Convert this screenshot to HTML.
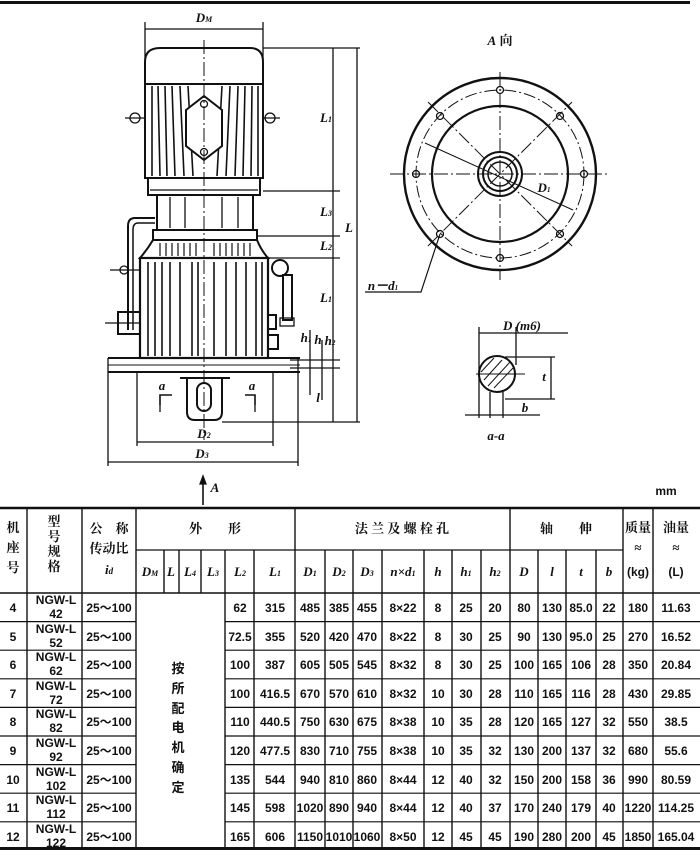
<!DOCTYPE html>
<html><head><meta charset="utf-8"><style>
html,body{margin:0;padding:0;background:#fff;}
svg{display:block;}
text{font-family:"Liberation Sans","Noto Sans CJK SC",sans-serif;fill:#111;}
.n{font-weight:bold;font-size:12px;text-anchor:middle;}
.h{font-size:13px;text-anchor:middle;font-family:"Liberation Serif","Noto Serif CJK SC",serif;font-weight:bold;}
.i{font-style:italic;font-weight:bold;font-family:"Liberation Serif",serif;font-size:13px;text-anchor:middle;}
</style></head><body>
<svg width="700" height="858" viewBox="0 0 700 858" xmlns="http://www.w3.org/2000/svg">
<g stroke="#111" fill="none" stroke-width="1.3">
<!-- top rule -->
<line x1="0" y1="2.5" x2="690" y2="2.5" stroke-width="3"/>
<!-- DM dim -->
<line x1="145" y1="22" x2="145" y2="60"/><line x1="263" y1="22" x2="263" y2="60"/>
<line x1="145" y1="29" x2="263" y2="29"/>
<!-- motor cap -->
<path d="M145 84 L145 62 Q145 48 160 48 L250 48 Q263 48 263 62 L263 84 Z" stroke-width="2"/>
<!-- motor body -->
<rect x="145" y="84" width="118" height="94" stroke-width="2"/>
<g stroke-width="1.6">
<line x1="152" y1="86" x2="152" y2="176"/><line x1="158" y1="86" x2="160" y2="176"/><line x1="165" y1="86" x2="167" y2="176"/>
<line x1="172" y1="86" x2="175" y2="176"/><line x1="180" y1="86" x2="184" y2="176"/><line x1="188" y1="86" x2="193" y2="176"/>
<line x1="222" y1="86" x2="217" y2="176"/><line x1="230" y1="86" x2="226" y2="176"/><line x1="238" y1="86" x2="235" y2="176"/>
<line x1="245" y1="86" x2="243" y2="176"/><line x1="252" y1="86" x2="251" y2="176"/><line x1="258" y1="86" x2="258" y2="176"/>
</g>
<path d="M186 110 L204 96 L222 110 L222 146 L204 160 L186 146 Z" fill="#fff" stroke-width="2"/>
<circle cx="204" cy="104" r="3.5"/><circle cx="204" cy="152" r="3.5"/>
<!-- lifting eyes -->
<circle cx="135" cy="118" r="5"/><line x1="125" y1="118" x2="145" y2="118"/>
<circle cx="270" cy="118" r="5"/><line x1="263" y1="118" x2="280" y2="118"/>
<!-- flange band -->
<rect x="148" y="178" width="112" height="17" stroke-width="2"/>
<line x1="150" y1="190" x2="258" y2="190"/>
<!-- coupling -->
<rect x="157" y="195" width="96" height="35" stroke-width="2"/>
<line x1="170" y1="197" x2="170" y2="228"/><line x1="185" y1="197" x2="185" y2="228"/><line x1="222" y1="197" x2="222" y2="228"/><line x1="238" y1="197" x2="238" y2="228"/>
<rect x="153" y="230" width="104" height="10" stroke-width="2"/>
<path d="M153 240 Q147 250 140 258 L268 258 Q261 250 257 240" stroke-width="2"/>
<g stroke-width="1.2"><line x1="160" y1="243" x2="160" y2="256"/><line x1="166" y1="243" x2="166" y2="256"/><line x1="172" y1="243" x2="172" y2="256"/><line x1="178" y1="243" x2="178" y2="256"/><line x1="184" y1="243" x2="184" y2="256"/><line x1="190" y1="243" x2="190" y2="256"/><line x1="196" y1="243" x2="196" y2="256"/><line x1="214" y1="243" x2="214" y2="256"/><line x1="220" y1="243" x2="220" y2="256"/><line x1="226" y1="243" x2="226" y2="256"/><line x1="232" y1="243" x2="232" y2="256"/><line x1="238" y1="243" x2="238" y2="256"/><line x1="244" y1="243" x2="244" y2="256"/><line x1="250" y1="243" x2="250" y2="256"/></g>
<!-- oil pipe left -->
<path d="M155 218 L135 218 Q128 218 128 226 L128 330" stroke-width="2"/>
<path d="M155 223 L138 223 Q133 223 133 230 L133 330" stroke-width="1.5"/>
<circle cx="124" cy="270" r="4"/><line x1="110" y1="270" x2="140" y2="270"/>
<rect x="118" y="312" width="22" height="22" stroke-width="2"/><line x1="105" y1="323" x2="140" y2="323"/>
<!-- gearbox body -->
<rect x="140" y="258" width="128" height="100" stroke-width="2.2"/>
<g stroke-width="1.6">
<line x1="148" y1="262" x2="148" y2="356"/><line x1="155" y1="262" x2="155" y2="356"/><line x1="162" y1="262" x2="162" y2="356"/><line x1="170" y1="262" x2="170" y2="356"/><line x1="180" y1="262" x2="180" y2="356"/><line x1="192" y1="262" x2="192" y2="356"/><line x1="198" y1="262" x2="198" y2="356"/>
<line x1="214" y1="262" x2="214" y2="356"/><line x1="226" y1="262" x2="226" y2="356"/><line x1="236" y1="262" x2="236" y2="356"/><line x1="246" y1="262" x2="246" y2="356"/><line x1="256" y1="262" x2="256" y2="356"/><line x1="262" y1="262" x2="262" y2="356"/>
</g>
<!-- right sight glass -->
<circle cx="280" cy="268" r="8" stroke-width="2"/>
<rect x="283" y="275" width="9" height="45" stroke-width="2"/>
<rect x="280" y="318" width="14" height="8"/><rect x="268" y="315" width="8" height="14" stroke-width="2"/>
<rect x="268" y="335" width="10" height="14" stroke-width="2"/>
<!-- base plate -->
<line x1="108" y1="358" x2="300" y2="358" stroke-width="2"/>
<line x1="108" y1="372" x2="300" y2="372" stroke-width="2"/>
<line x1="108" y1="365" x2="300" y2="365" stroke-width="1"/>
<line x1="108" y1="358" x2="108" y2="466"/>
<line x1="298" y1="358" x2="298" y2="466"/>
<line x1="137" y1="372" x2="137" y2="446"/>
<line x1="273" y1="372" x2="273" y2="446"/>
<!-- shaft -->
<path d="M187 378 L187 412 Q187 420 195 420 L214 420 Q222 420 222 412 L222 378" stroke-width="2"/>
<line x1="180" y1="378" x2="230" y2="378" stroke-width="2"/>
<rect x="197" y="383" width="14" height="28" rx="7" stroke-width="2"/>
<!-- section marks -->
<path d="M160 405 L160 395 L172 395" stroke-width="1.6"/><line x1="160" y1="405" x2="160" y2="412"/>
<path d="M245 395 L255 395 L255 405" stroke-width="1.6"/><line x1="255" y1="405" x2="255" y2="412"/>
<!-- center line -->
<line x1="204" y1="40" x2="204" y2="440" stroke-width="1" stroke-dasharray="14 3 2 3"/>
<!-- right dims -->
<line x1="263" y1="48" x2="360" y2="48"/>
<line x1="263" y1="191" x2="340" y2="191"/>
<line x1="257" y1="236" x2="340" y2="236"/>
<line x1="268" y1="258" x2="340" y2="258"/>
<line x1="222" y1="422" x2="360" y2="422"/>
<line x1="333" y1="48" x2="333" y2="422"/>
<line x1="357" y1="48" x2="357" y2="422"/>
<line x1="310" y1="330" x2="310" y2="395"/><line x1="322" y1="340" x2="322" y2="400"/>
<line x1="290" y1="360" x2="340" y2="360"/><line x1="290" y1="368" x2="340" y2="368"/>
<!-- D2, D3 -->
<line x1="137" y1="442" x2="273" y2="442"/>
<line x1="108" y1="462" x2="298" y2="462"/>
<!-- A arrow -->
<line x1="203" y1="478" x2="203" y2="505" stroke-width="1.6"/>
<path d="M200 484 L203 476 L206 484 Z" fill="#111"/>

<!-- A-view circle -->
<circle cx="500" cy="174" r="96" stroke-width="2.4"/>
<circle cx="500" cy="174" r="84" stroke-width="1" stroke-dasharray="12 3 2 3"/>
<circle cx="500" cy="174" r="68" stroke-width="2.2"/>
<circle cx="500" cy="174" r="22" stroke-width="2"/>
<circle cx="500" cy="174" r="17" stroke-width="2"/>
<circle cx="500" cy="174" r="12" stroke-width="1.5"/>
<line x1="390" y1="174" x2="608" y2="174" stroke-width="1" stroke-dasharray="14 3 2 3"/>
<line x1="500" y1="72" x2="500" y2="280" stroke-width="1" stroke-dasharray="14 3 2 3"/>
<line x1="428" y1="246" x2="572" y2="102" stroke-width="1" stroke-dasharray="14 3 2 3"/>
<line x1="428" y1="102" x2="572" y2="246" stroke-width="1" stroke-dasharray="14 3 2 3"/>
<line x1="425" y1="143" x2="573" y2="210" stroke-width="1"/>
<circle cx="500" cy="90" r="3.5"/><circle cx="500" cy="258" r="3.5"/>
<circle cx="416" cy="174" r="3.5"/><circle cx="584" cy="174" r="3.5"/>
<circle cx="440" cy="116" r="3.5"/><circle cx="560" cy="116" r="3.5"/>
<circle cx="440" cy="234" r="3.5"/><circle cx="560" cy="234" r="3.5"/>
<path d="M440 234 L421 292 L365 292" stroke-width="1.2"/>
<!-- section a-a -->
<circle cx="497" cy="374" r="18" stroke-width="2"/>
<line x1="476" y1="374" x2="525" y2="374" stroke-width="1"/>
<line x1="479" y1="327" x2="479" y2="418"/><line x1="516" y1="327" x2="516" y2="365"/>
<line x1="479" y1="333" x2="568" y2="333"/>
<line x1="505" y1="357" x2="555" y2="357"/><line x1="505" y1="399" x2="555" y2="399"/>
<line x1="551" y1="357" x2="551" y2="399"/>
<line x1="465" y1="415" x2="540" y2="415"/>
<line x1="490" y1="392" x2="490" y2="418"/><line x1="503" y1="392" x2="503" y2="418"/>
<g stroke-width="1"><line x1="484" y1="380" x2="502" y2="360"/><line x1="488" y1="386" x2="510" y2="362"/><line x1="494" y1="388" x2="513" y2="368"/><line x1="481" y1="372" x2="494" y2="358"/></g>

<!-- TABLE lines -->
<line x1="0" y1="508" x2="700" y2="508" stroke-width="2.4"/>
<line x1="136" y1="550" x2="623" y2="550"/>
<line x1="0" y1="593" x2="700" y2="593" stroke-width="1.6"/>
<line x1="0" y1="848.5" x2="700" y2="848.5" stroke-width="3"/>
<g stroke-width="1.4">
<line x1="27" y1="508" x2="27" y2="848"/><line x1="82" y1="508" x2="82" y2="848"/><line x1="136" y1="508" x2="136" y2="848"/>
<line x1="164" y1="550" x2="164" y2="593"/><line x1="179" y1="550" x2="179" y2="593"/><line x1="201" y1="550" x2="201" y2="593"/>
<line x1="225" y1="550" x2="225" y2="848"/><line x1="254" y1="550" x2="254" y2="848"/>
<line x1="295" y1="508" x2="295" y2="848"/><line x1="325" y1="550" x2="325" y2="848"/><line x1="353" y1="550" x2="353" y2="848"/>
<line x1="382" y1="550" x2="382" y2="848"/><line x1="424" y1="550" x2="424" y2="848"/><line x1="452" y1="550" x2="452" y2="848"/>
<line x1="481" y1="550" x2="481" y2="848"/><line x1="510" y1="508" x2="510" y2="848"/><line x1="538" y1="550" x2="538" y2="848"/>
<line x1="566" y1="550" x2="566" y2="848"/><line x1="596" y1="550" x2="596" y2="848"/><line x1="623" y1="508" x2="623" y2="848"/>
<line x1="653" y1="508" x2="653" y2="848"/>
</g>
<g stroke-width="1.2">
<path d="M0 621.6H136M225 621.6H700M0 650.2H136M225 650.2H700M0 678.8H136M225 678.8H700M0 707.4H136M225 707.4H700M0 736H136M225 736H700M0 764.6H136M225 764.6H700M0 793.2H136M225 793.2H700M0 821.8H136M225 821.8H700"/>
</g>
</g>

<!-- drawing labels -->
<text x="204" y="22" class="i" font-size="11">D<tspan font-size="8">M</tspan></text>
<text x="326" y="122" class="i" font-size="11">L<tspan font-size="8">1</tspan></text>
<text x="326" y="216" class="i" font-size="11">L<tspan font-size="8">3</tspan></text>
<text x="326" y="250" class="i" font-size="11">L<tspan font-size="8">2</tspan></text>
<text x="349" y="232" class="i" font-size="11">L</text>
<text x="326" y="302" class="i" font-size="11">L<tspan font-size="8">1</tspan></text>
<text x="306" y="342" class="i" font-size="9">h<tspan font-size="7">1</tspan></text>
<text x="318" y="344" class="i" font-size="9">h</text>
<text x="330" y="345" class="i" font-size="9">h<tspan font-size="7">2</tspan></text>
<text x="318" y="402" class="i" font-size="9">l</text>
<text x="204" y="438" class="i" font-size="11">D<tspan font-size="8">2</tspan></text>
<text x="202" y="458" class="i" font-size="11">D<tspan font-size="8">3</tspan></text>
<text x="215" y="492" class="i" font-size="11">A</text>
<text x="162" y="390" class="i" font-size="8">a</text>
<text x="252" y="390" class="i" font-size="8">a</text>
<text x="500" y="45" class="h" font-size="12"><tspan font-style="italic">A</tspan> 向</text>
<text x="544" y="192" class="i" font-size="10">D<tspan font-size="7">1</tspan></text>
<text x="383" y="290" class="i" font-size="10">n－d<tspan font-size="7">1</tspan></text>
<text x="522" y="330" class="i" font-size="10">D (m6)</text>
<text x="544" y="381" class="i" font-size="10">t</text>
<text x="525" y="412" class="i" font-size="10">b</text>
<text x="496" y="440" class="i" font-size="10">a-a</text>
<text x="666" y="495" class="n" font-size="10">mm</text>

<!-- table headers -->
<text x="13" y="532" class="h">机</text><text x="13" y="552" class="h">座</text><text x="13" y="572" class="h">号</text>
<text x="54" y="526" class="h">型</text><text x="54" y="541" class="h">号</text><text x="54" y="556" class="h">规</text><text x="54" y="571" class="h">格</text>
<text x="109" y="533" class="h">公　称</text><text x="109" y="553" class="h">传动比</text>
<text x="109" y="574" class="i">i<tspan font-size="9">d</tspan></text>
<text x="215" y="533" class="h">外　　形</text>
<text x="402" y="533" class="h">法 兰 及 螺 栓 孔</text>
<text x="566" y="533" class="h">轴　　伸</text>
<text x="638" y="532" class="h">质量</text><text x="638" y="552" class="h">≈</text><text x="638" y="576" class="n">(kg)</text>
<text x="676" y="532" class="h">油量</text><text x="676" y="552" class="h">≈</text><text x="676" y="576" class="n">(L)</text>
<g class="i">
<text x="150" y="576" class="i">D<tspan font-size="8">M</tspan></text>
<text x="171" y="576" class="i">L</text>
<text x="190" y="576" class="i">L<tspan font-size="8">4</tspan></text>
<text x="213" y="576" class="i">L<tspan font-size="8">3</tspan></text>
<text x="240" y="576" class="i">L<tspan font-size="8">2</tspan></text>
<text x="275" y="576" class="i">L<tspan font-size="8">1</tspan></text>
<text x="310" y="576" class="i">D<tspan font-size="8">1</tspan></text>
<text x="339" y="576" class="i">D<tspan font-size="8">2</tspan></text>
<text x="367" y="576" class="i">D<tspan font-size="8">3</tspan></text>
<text x="403" y="576" class="i">n×d<tspan font-size="8">1</tspan></text>
<text x="438" y="576" class="i">h</text>
<text x="466" y="576" class="i">h<tspan font-size="8">1</tspan></text>
<text x="495" y="576" class="i">h<tspan font-size="8">2</tspan></text>
<text x="524" y="576" class="i">D</text>
<text x="552" y="576" class="i">l</text>
<text x="581" y="576" class="i">t</text>
<text x="609" y="576" class="i">b</text>
</g>
<!-- merged cell -->
<g class="h" font-size="14">
<text x="178" y="673">按</text><text x="178" y="693">所</text><text x="178" y="713">配</text><text x="178" y="732">电</text><text x="178" y="752">机</text><text x="178" y="772">确</text><text x="178" y="792">定</text>
</g>
<!-- rows -->
<g class="n">
<text x="13" y="612">4</text><text x="13" y="641">5</text><text x="13" y="669">6</text><text x="13" y="698">7</text><text x="13" y="726">8</text><text x="13" y="755">9</text><text x="13" y="784">10</text><text x="13" y="812">11</text><text x="13" y="841">12</text>
<text x="56" y="604">NGW-L</text><text x="56" y="618">42</text>
<text x="56" y="633">NGW-L</text><text x="56" y="647">52</text>
<text x="56" y="661">NGW-L</text><text x="56" y="675">62</text>
<text x="56" y="690">NGW-L</text><text x="56" y="704">72</text>
<text x="56" y="718">NGW-L</text><text x="56" y="732">82</text>
<text x="56" y="747">NGW-L</text><text x="56" y="761">92</text>
<text x="56" y="776">NGW-L</text><text x="56" y="790">102</text>
<text x="56" y="804">NGW-L</text><text x="56" y="818">112</text>
<text x="56" y="833">NGW-L</text><text x="56" y="847">122</text>
<text x="109" y="612">25～100</text><text x="109" y="641">25～100</text><text x="109" y="669">25～100</text><text x="109" y="698">25～100</text><text x="109" y="726">25～100</text><text x="109" y="755">25～100</text><text x="109" y="784">25～100</text><text x="109" y="812">25～100</text><text x="109" y="841">25～100</text>
</g>
<g class="n" font-size="11.5">
<text y="612"><tspan x="240">62</tspan><tspan x="275">315</tspan><tspan x="310">485</tspan><tspan x="339">385</tspan><tspan x="367">455</tspan><tspan x="403">8×22</tspan><tspan x="438">8</tspan><tspan x="466">25</tspan><tspan x="495">20</tspan><tspan x="524">80</tspan><tspan x="552">130</tspan><tspan x="581">85.0</tspan><tspan x="609">22</tspan><tspan x="638">180</tspan><tspan x="676">11.63</tspan></text>
<text y="641"><tspan x="240">72.5</tspan><tspan x="275">355</tspan><tspan x="310">520</tspan><tspan x="339">420</tspan><tspan x="367">470</tspan><tspan x="403">8×22</tspan><tspan x="438">8</tspan><tspan x="466">30</tspan><tspan x="495">25</tspan><tspan x="524">90</tspan><tspan x="552">130</tspan><tspan x="581">95.0</tspan><tspan x="609">25</tspan><tspan x="638">270</tspan><tspan x="676">16.52</tspan></text>
<text y="669"><tspan x="240">100</tspan><tspan x="275">387</tspan><tspan x="310">605</tspan><tspan x="339">505</tspan><tspan x="367">545</tspan><tspan x="403">8×32</tspan><tspan x="438">8</tspan><tspan x="466">30</tspan><tspan x="495">25</tspan><tspan x="524">100</tspan><tspan x="552">165</tspan><tspan x="581">106</tspan><tspan x="609">28</tspan><tspan x="638">350</tspan><tspan x="676">20.84</tspan></text>
<text y="698"><tspan x="240">100</tspan><tspan x="275">416.5</tspan><tspan x="310">670</tspan><tspan x="339">570</tspan><tspan x="367">610</tspan><tspan x="403">8×32</tspan><tspan x="438">10</tspan><tspan x="466">30</tspan><tspan x="495">28</tspan><tspan x="524">110</tspan><tspan x="552">165</tspan><tspan x="581">116</tspan><tspan x="609">28</tspan><tspan x="638">430</tspan><tspan x="676">29.85</tspan></text>
<text y="726"><tspan x="240">110</tspan><tspan x="275">440.5</tspan><tspan x="310">750</tspan><tspan x="339">630</tspan><tspan x="367">675</tspan><tspan x="403">8×38</tspan><tspan x="438">10</tspan><tspan x="466">35</tspan><tspan x="495">28</tspan><tspan x="524">120</tspan><tspan x="552">165</tspan><tspan x="581">127</tspan><tspan x="609">32</tspan><tspan x="638">550</tspan><tspan x="676">38.5</tspan></text>
<text y="755"><tspan x="240">120</tspan><tspan x="275">477.5</tspan><tspan x="310">830</tspan><tspan x="339">710</tspan><tspan x="367">755</tspan><tspan x="403">8×38</tspan><tspan x="438">10</tspan><tspan x="466">35</tspan><tspan x="495">32</tspan><tspan x="524">130</tspan><tspan x="552">200</tspan><tspan x="581">137</tspan><tspan x="609">32</tspan><tspan x="638">680</tspan><tspan x="676">55.6</tspan></text>
<text y="784"><tspan x="240">135</tspan><tspan x="275">544</tspan><tspan x="310">940</tspan><tspan x="339">810</tspan><tspan x="367">860</tspan><tspan x="403">8×44</tspan><tspan x="438">12</tspan><tspan x="466">40</tspan><tspan x="495">32</tspan><tspan x="524">150</tspan><tspan x="552">200</tspan><tspan x="581">158</tspan><tspan x="609">36</tspan><tspan x="638">990</tspan><tspan x="676">80.59</tspan></text>
<text y="812"><tspan x="240">145</tspan><tspan x="275">598</tspan><tspan x="310">1020</tspan><tspan x="339">890</tspan><tspan x="367">940</tspan><tspan x="403">8×44</tspan><tspan x="438">12</tspan><tspan x="466">40</tspan><tspan x="495">37</tspan><tspan x="524">170</tspan><tspan x="552">240</tspan><tspan x="581">179</tspan><tspan x="609">40</tspan><tspan x="638">1220</tspan><tspan x="676">114.25</tspan></text>
<text y="841"><tspan x="240">165</tspan><tspan x="275">606</tspan><tspan x="310">1150</tspan><tspan x="339">1010</tspan><tspan x="367">1060</tspan><tspan x="403">8×50</tspan><tspan x="438">12</tspan><tspan x="466">45</tspan><tspan x="495">45</tspan><tspan x="524">190</tspan><tspan x="552">280</tspan><tspan x="581">200</tspan><tspan x="609">45</tspan><tspan x="638">1850</tspan><tspan x="676">165.04</tspan></text>
</g>
</svg>
</body></html>
